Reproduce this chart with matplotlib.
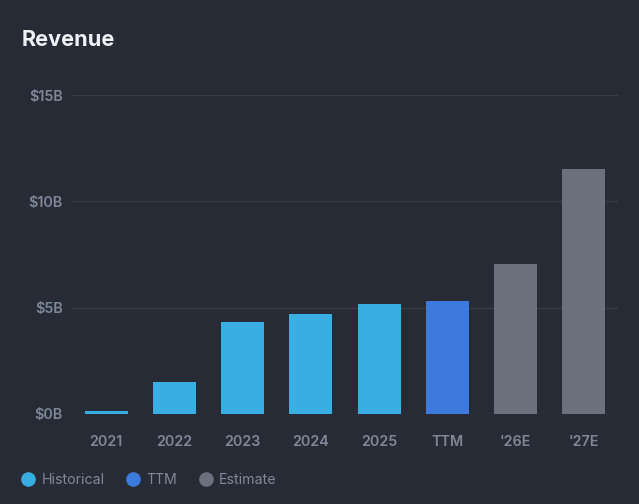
import numpy as np
import matplotlib.pyplot as plt
from matplotlib.lines import Line2D

#########Data############
labels = ['2021', '2022', '2023', '2024', '2025', 'TTM', "'26E", "'27E"]
revenue = [0.14, 1.5, 4.33, 4.7, 5.17, 5.33, 7.04, 11.5]  # $B
kinds = ['hist', 'hist', 'hist', 'hist', 'hist', 'ttm', 'est', 'est']
y_ticks = [0, 5, 10, 15]
y_tick_labels = ['$0B', '$5B', '$10B', '$15B']
#########################

bg = '#272b36'
colors = {'hist': '#38aee3', 'ttm': '#3c7bdd', 'est': '#6b707c'}
tick_col = '#7f8899'
grid_col = '#363b48'

plt.rcParams['font.family'] = ['Inter', 'DejaVu Sans']

fig = plt.figure(figsize=(6.39, 5.04), dpi=100, facecolor=bg)
ax = fig.add_axes([72 / 639, 90 / 504, 546 / 639, 319 / 504])
ax.set_facecolor(bg)

x = np.arange(len(labels))
ax.bar(x, revenue, width=0.63, color=[colors[k] for k in kinds], zorder=3)

ax.set_xlim(-0.5, len(labels) - 0.5)
ax.set_ylim(0, 15)
ax.set_yticks(y_ticks)
ax.set_yticklabels(y_tick_labels)
ax.set_xticks(x)
ax.set_xticklabels(labels)
ax.yaxis.grid(True, color=grid_col, linewidth=1, zorder=0)
ax.tick_params(axis='both', length=0, colors=tick_col, labelsize=10.3)
ax.tick_params(axis='y', pad=6.5)
ax.tick_params(axis='x', pad=15)
for lab in ax.get_xticklabels() + ax.get_yticklabels():
    lab.set_fontweight('semibold')
for s in ax.spines.values():
    s.set_visible(False)

fig.text(22 / 639, 1 - 39.5 / 504, 'Revenue', color='#f0f1f4', fontsize=15.6,
         fontweight='bold', va='center', ha='left')

handles = [Line2D([], [], marker='o', linestyle='', markersize=9.5,
                  color=colors[k]) for k in ['hist', 'ttm', 'est']]
leg = fig.legend(handles, ['Historical', 'TTM', 'Estimate'], loc='center left',
                 bbox_to_anchor=(21 / 639, 1 - 480 / 504), ncol=3, frameon=False,
                 handletextpad=0.45, columnspacing=1.5, fontsize=10.2,
                 labelcolor=tick_col, handlelength=1.0, borderaxespad=0,
                 borderpad=0)

plt.savefig('out.png', dpi=100, facecolor=bg)
